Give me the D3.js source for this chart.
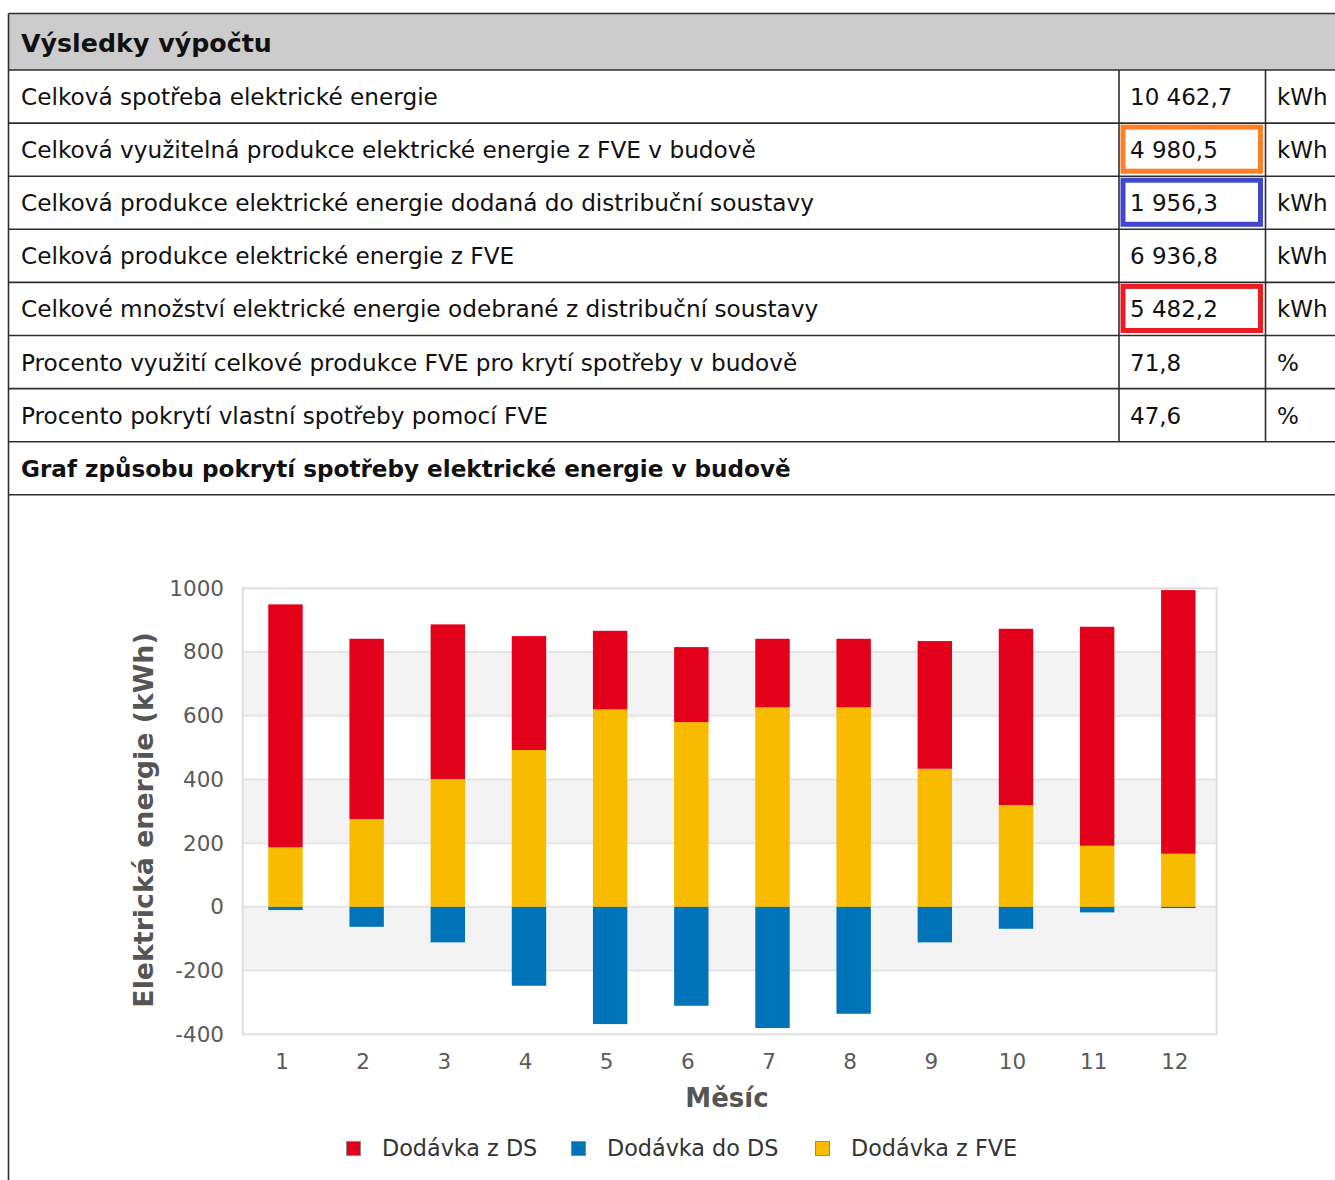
<!DOCTYPE html>
<html lang="cs">
<head>
<meta charset="utf-8">
<title>Výsledky výpočtu</title>
<script src="https://cdn.jsdelivr.net/npm/d3@7"></script>
<style>
  html, body { margin: 0; padding: 0; background: #fff; }
  svg { display: block; font-family: "DejaVu Sans", sans-serif; }
</style>
</head>
<body>
<svg id="page" width="1335" height="1180"></svg>
<script>
// ---- table content ----
const tableTitle = "Výsledky výpočtu";
const rowLabels = [
  "Celková spotřeba elektrické energie",
  "Celková využitelná produkce elektrické energie z FVE v budově",
  "Celková produkce elektrické energie dodaná do distribuční soustavy",
  "Celková produkce elektrické energie z FVE",
  "Celkové množství elektrické energie odebrané z distribuční soustavy",
  "Procento využití celkové produkce FVE pro krytí spotřeby v budově",
  "Procento pokrytí vlastní spotřeby pomocí FVE"
];
const rowValues = ["10 462,7", "4 980,5", "1 956,3", "6 936,8", "5 482,2", "71,8", "47,6"];
const rowUnits = ["kWh", "kWh", "kWh", "kWh", "kWh", "%", "%"];
// highlighted value cells: row index -> frame colour
const highlightRows = [1, 2, 4];
const highlightColors = ["#ff7f27", "#3f48cc", "#ed1c24"];
const chartTitle = "Graf způsobu pokrytí spotřeby elektrické energie v budově";

// ---- chart data (kWh per month) ----
const months = [1, 2, 3, 4, 5, 6, 7, 8, 9, 10, 11, 12];
const dodavkaZFVE = [186.8, 275.6, 401.1, 492.2, 619.9, 580.0, 626.2, 626.2, 433.5, 319.5, 191.8, 166.7];
const dodavkaZDS  = [762.7, 565.9, 485.6, 357.8, 246.7, 235.4, 215.3, 215.3, 400.8, 553.4, 687.4, 827.7];
const dodavkaDoDS = [-10.0, -62.5, -111.4, -247.6, -367.9, -310.4, -380.4, -335.5, -111.4, -68.7, -17.3, -3.8];
const seriesNames = ["Dodávka z DS", "Dodávka do DS", "Dodávka z FVE"];
const seriesColors = ["#e2001a", "#0073b9", "#f9bb00"];
const yTicks = [-400, -200, 0, 200, 400, 600, 800, 1000];
const xTitle = "Měsíc";
const yTitle = "Elektrická energie (kWh)";

const svg = d3.select("#page");

// ================= table =================
const tbl = { left: 8.5, top: 13.5, headerBottom: 70, rowH: 53.1, col1: 1119, col2: 1265.5, right: 1340 };
const lineColor = "#2e2e2e";
const rowTop = i => tbl.headerBottom + i * tbl.rowH;
const nRows = rowLabels.length;
const chartRowTop = rowTop(nRows);

// header band
svg.append("rect")
  .attr("x", tbl.left).attr("y", tbl.top)
  .attr("width", tbl.right - tbl.left).attr("height", tbl.headerBottom - tbl.top)
  .attr("fill", "#cccccc");
svg.append("text")
  .attr("x", 21).attr("y", 52)
  .attr("font-size", 25.3).attr("font-weight", "bold").attr("fill", "#111")
  .text(tableTitle);

// rows
const rows = svg.append("g").selectAll("g").data(rowLabels).join("g")
  .attr("transform", (d, i) => `translate(0,${rowTop(i)})`);
rows.append("text").attr("x", 21).attr("y", tbl.rowH / 2 + 8.5)
  .attr("font-size", 23.2).attr("fill", "#111").text(d => d);
rows.append("text").attr("x", 1130).attr("y", tbl.rowH / 2 + 8.5)
  .attr("font-size", 23).attr("fill", "#111").text((d, i) => rowValues[i]);
rows.append("text").attr("x", 1277).attr("y", tbl.rowH / 2 + 8.5)
  .attr("font-size", 23).attr("fill", "#111").text((d, i) => rowUnits[i]);

// chart title row
svg.append("text")
  .attr("x", 21).attr("y", chartRowTop + tbl.rowH / 2 + 8.5)
  .attr("font-size", 23.1).attr("font-weight", "bold").attr("fill", "#111")
  .text(chartTitle);

// grid lines of the table
const gLines = svg.append("g").attr("stroke", lineColor).attr("stroke-width", 1.6).attr("fill", "none");
gLines.append("line").attr("x1", tbl.left).attr("x2", tbl.right).attr("y1", tbl.top).attr("y2", tbl.top);
gLines.append("line").attr("x1", tbl.left).attr("x2", tbl.left).attr("y1", tbl.top).attr("y2", 1185);
d3.range(nRows + 2).forEach(i => {
  const y = rowTop(i);
  gLines.append("line").attr("x1", tbl.left).attr("x2", tbl.right).attr("y1", y).attr("y2", y);
});
[tbl.col1, tbl.col2].forEach(x => {
  gLines.append("line").attr("x1", x).attr("x2", x).attr("y1", tbl.headerBottom).attr("y2", chartRowTop);
});

// coloured frames round selected values
const frameW = 5;
svg.append("g").selectAll("rect").data(highlightRows).join("rect")
  .attr("x", tbl.col1 + 1.5 + frameW / 2)
  .attr("y", i => rowTop(i) + 1.5 + frameW / 2)
  .attr("width", tbl.col2 - tbl.col1 - 4 - frameW)
  .attr("height", tbl.rowH - 4 - frameW)
  .attr("fill", "none")
  .attr("stroke-width", frameW)
  .attr("stroke", (d, i) => highlightColors[i]);

// ================= chart =================
const plot = { left: 242.7, right: 1216.7, top: 588.3, bottom: 1034.3 };
const y = d3.scaleLinear().domain([-400, 1000]).range([plot.bottom, plot.top]);
const x = d3.scaleBand().domain(months).range([plot.left + 2.2, plot.right + 2.2])
  .paddingInner(0.576).paddingOuter(0.288);

const chart = svg.append("g");

// alternating background bands (-200..0, 200..400, 600..800 shaded)
const bands = d3.pairs(yTicks).filter((p, i) => i % 2 === 1);
chart.append("g").selectAll("rect").data(bands).join("rect")
  .attr("x", plot.left).attr("width", plot.right - plot.left)
  .attr("y", d => y(d[1])).attr("height", d => y(d[0]) - y(d[1]))
  .attr("fill", "#f3f3f3");

// horizontal grid lines
chart.append("g").selectAll("line").data(yTicks.slice(1, -1)).join("line")
  .attr("x1", plot.left).attr("x2", plot.right)
  .attr("y1", d => y(d)).attr("y2", d => y(d))
  .attr("stroke", "#e4e4e4").attr("stroke-width", 2);

// plot frame
chart.append("rect")
  .attr("x", plot.left).attr("y", plot.top)
  .attr("width", plot.right - plot.left).attr("height", plot.bottom - plot.top)
  .attr("fill", "none").attr("stroke", "#dedede").attr("stroke-width", 2);

// stacked bars: FVE at the bottom, DS supply on top, export below zero
const table = months.map((m, i) => ({ month: m, fve: dodavkaZFVE[i], ds: dodavkaZDS[i], doDs: dodavkaDoDS[i] }));
const stacked = d3.stack().keys(["fve", "ds"]).offset(d3.stackOffsetDiverging)(table);
const stackColors = { fve: seriesColors[2], ds: seriesColors[0] };

chart.append("g").selectAll("g").data(stacked).join("g")
  .attr("fill", s => stackColors[s.key])
  .selectAll("rect").data(s => s).join("rect")
  .attr("x", d => x(d.data.month)).attr("width", x.bandwidth())
  .attr("y", d => y(d[1])).attr("height", d => y(d[0]) - y(d[1]));

chart.append("g").attr("fill", seriesColors[1]).selectAll("rect").data(table).join("rect")
  .attr("x", d => x(d.month)).attr("width", x.bandwidth())
  .attr("y", y(0)).attr("height", d => y(d.doDs) - y(0));

// axes (labels only, no tick marks)
const yAxis = d3.axisLeft(y).tickValues(yTicks).tickSize(0).tickPadding(0).tickFormat(d => String(d));
const yAxisG = chart.append("g").attr("transform", `translate(224,0)`).call(yAxis);
const xAxis = d3.axisBottom(x).tickSize(0).tickPadding(0).tickFormat(d => String(d));
const xAxisG = chart.append("g").attr("transform", `translate(-3.5,1054)`).call(xAxis);
[yAxisG, xAxisG].forEach(g => {
  g.select(".domain").remove();
  g.selectAll("text").attr("font-family", "DejaVu Sans").attr("font-size", 21.5).attr("fill", "#5a5a5a");
});

// axis titles
chart.append("text")
  .attr("x", 727).attr("y", 1107).attr("text-anchor", "middle")
  .attr("font-size", 26).attr("font-weight", "bold").attr("fill", "#555")
  .text(xTitle);
chart.append("text")
  .attr("transform", "translate(153,820) rotate(-90)").attr("text-anchor", "middle")
  .attr("font-size", 26.8).attr("font-weight", "bold").attr("fill", "#555")
  .text(yTitle);

// legend
const legendOffsets = [0, 225, 469];
const legend = chart.append("g").attr("transform", "translate(346,1141)");
seriesNames.forEach((name, i) => {
  const item = legend.append("g").attr("transform", `translate(${legendOffsets[i]},0)`);
  item.append("rect").attr("x", 0.5).attr("y", 0.5).attr("width", 14).attr("height", 14)
    .attr("fill", seriesColors[i]).attr("stroke", "#8a8a8a").attr("stroke-width", 1);
  item.append("text").attr("x", 36).attr("y", 15)
    .attr("font-size", 22.3).attr("fill", "#333").text(name);
});
</script>
</body>
</html>
